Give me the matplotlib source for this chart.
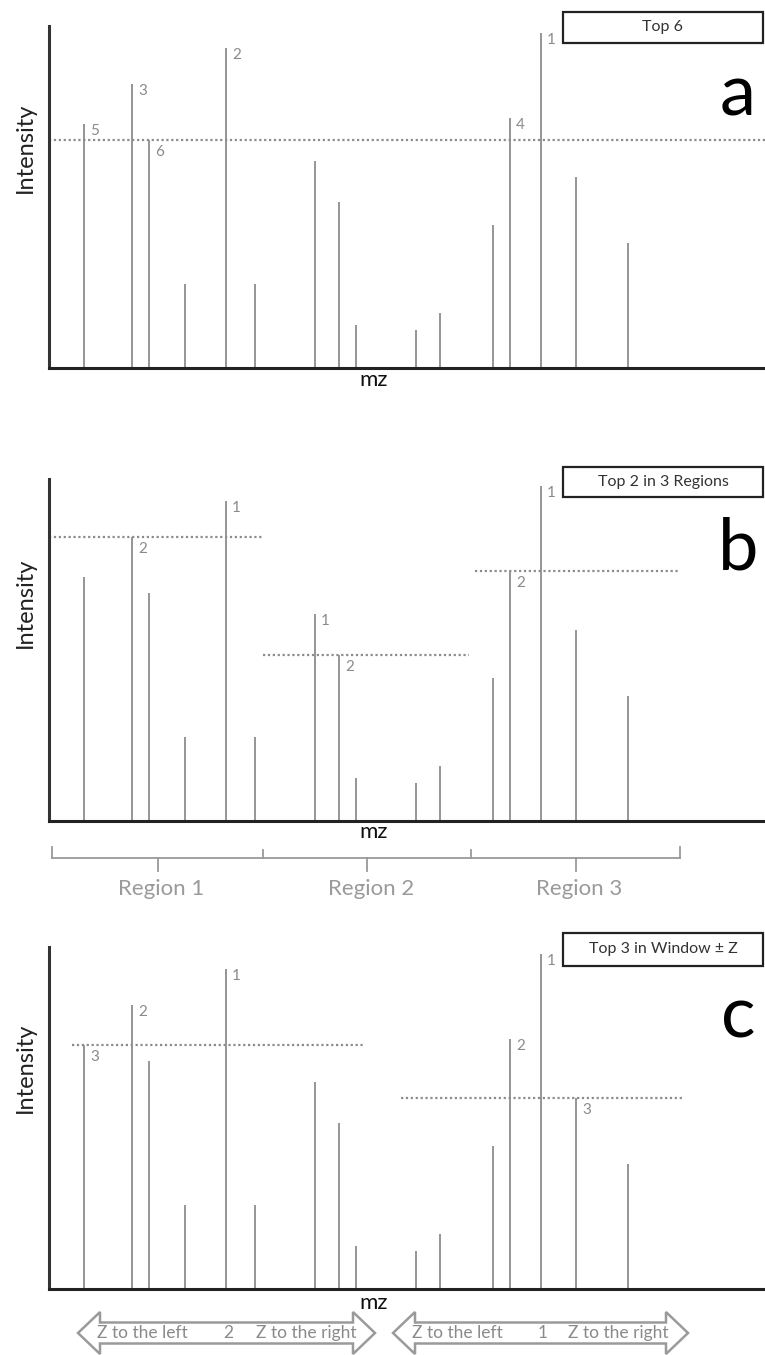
import matplotlib
matplotlib.use('Agg')
import matplotlib.pyplot as plt
from matplotlib import transforms
from matplotlib.patches import Polygon, Rectangle

plt.rcParams['font.family'] = ['Lato', 'DejaVu Sans']

W, H = 765, 1355

# ---- data ----
mz = [84, 132, 149, 185, 226, 255, 315, 339, 356, 416, 440, 493, 510, 541, 576, 628]
intensity = [244, 284, 228, 84, 320, 84, 207, 166, 43, 38, 55, 143, 250, 335, 191, 125]

panel_letters = ['a', 'b', 'c']
panel_titles = ['Top 6', 'Top 2 in 3 Regions', 'Top 3 in Window \u00b1 Z']

top_n_a = 6
threshold_a_span = (49, 765)

top_n_b = 2
region_edges = [52, 263, 471, 680]
region_line_spans = [(49, 263), (263, 469), (475, 678)]
region_labels = ['Region 1', 'Region 2', 'Region 3']

top_n_c = 3
window_spans = [(78, 375), (393, 688)]
window_line_spans = [(72, 364), (401, 684)]
window_center_labels = ['2', '1']

# ---- layout (pixels) ----
panel_tops = [26, 479, 947]
panel_bottoms = [368, 821, 1289]
box_tops = [12, 467, 933]
box_bottoms = [43, 497, 966]
letter_baselines = [115, 570, 1037]
ylabel_centers = [148, 603, 1068]
mz_label_y = [380, 832, 1303]

PEAK = '#8c8c8c'
LABEL = '#8a8a8a'
THR = '#8c8c8c'

fig = plt.figure(figsize=(W / 100, H / 100), dpi=100)
toppx = transforms.Affine2D().scale(1 / W, -1 / H).translate(0, 1) + fig.transFigure

axes = []
for top, bot in zip(panel_tops, panel_bottoms):
    ax = fig.add_axes([49 / W, 1 - bot / H, (W - 49) / W, (bot - top) / H])
    ax.set_xlim(49, 765)
    ax.set_ylim(0, 342)
    for s in ['top', 'right']:
        ax.spines[s].set_visible(False)
    ax.spines['left'].set_linewidth(2.2)
    ax.spines['left'].set_color('#333333')
    ax.spines['bottom'].set_linewidth(2.2)
    ax.spines['bottom'].set_color('#222222')
    ax.set_xticks([])
    ax.set_yticks([])
    ax.patch.set_alpha(0)
    ax.vlines(mz, 0, intensity, color=PEAK, lw=1.3)
    axes.append(ax)


def rank_and_draw(ax, lo, hi, n, span):
    idx = [i for i in range(len(mz)) if lo <= mz[i] <= hi]
    idx.sort(key=lambda i: -intensity[i])
    top = idx[:n]
    thr = intensity[top[-1]]
    ax.hlines(thr, span[0], span[1], color=THR, lw=1.6, linestyles=(0, (1, 1.2)))
    for k, i in enumerate(top, start=1):
        dy = -5 if k == n else 0
        ax.annotate(str(k), (mz[i], intensity[i]), xytext=(6, dy),
                    textcoords='offset pixels', ha='left', va='top',
                    fontsize=11, color=LABEL)


# panel a
rank_and_draw(axes[0], 0, 10000, top_n_a, threshold_a_span)
# panel b
for (lo, hi), span in zip(zip(region_edges[:-1], region_edges[1:]), region_line_spans):
    rank_and_draw(axes[1], lo, hi, top_n_b, span)
# panel c
for (lo, hi), span in zip(window_spans, window_line_spans):
    rank_and_draw(axes[2], lo, hi, top_n_c, span)

# boxes, letters, axis labels
for p in range(3):
    fig.add_artist(Rectangle((563, box_tops[p]), 200, box_bottoms[p] - box_tops[p],
                             transform=toppx, facecolor='white', edgecolor='#222222', lw=1.6))
    fig.text(663, (box_tops[p] + box_bottoms[p]) / 2, panel_titles[p], transform=toppx,
             ha='center', va='center', fontsize=11.5, color='#333333')
    fig.text(738, letter_baselines[p], panel_letters[p], transform=toppx,
             ha='center', va='baseline', fontsize=52, color='black')
    fig.text(25, ylabel_centers[p], 'Intensity', transform=toppx, rotation=90,
             ha='center', va='center', fontsize=17, color='#222222')
    fig.text(374, mz_label_y[p], 'mz', transform=toppx,
             ha='center', va='center', fontsize=16, color='#111111')

# region brackets (panel b)
bt = transforms.blended_transform_factory(axes[1].transData, toppx)
BR = '#9a9a9a'
y_end, y_bar, y_tick = 847, 858, 871
axes[1].plot([region_edges[0], region_edges[0]], [y_end, y_bar], transform=bt, color=BR, lw=1.3, clip_on=False)
axes[1].plot([region_edges[-1], region_edges[-1]], [y_end, y_bar], transform=bt, color=BR, lw=1.3, clip_on=False)
axes[1].plot([region_edges[0], region_edges[-1]], [y_bar, y_bar], transform=bt, color=BR, lw=1.3, clip_on=False)
for e in region_edges[1:-1]:
    axes[1].plot([e, e], [y_end + 3, y_bar], transform=bt, color=BR, lw=1.3, clip_on=False)
for (lo, hi), lab in zip(zip(region_edges[:-1], region_edges[1:]), region_labels):
    c = (lo + hi) / 2
    axes[1].plot([c, c], [y_bar, y_tick], transform=bt, color=BR, lw=1.3, clip_on=False)
    axes[1].text(c + 4, 889, lab, transform=bt, ha='center', va='center',
                 fontsize=16, color='#9a9a9a', clip_on=False)

# window arrows (panel c)
ct = transforms.blended_transform_factory(axes[2].transData, toppx)
yc, hh, sh, hl = 1333, 21, 10.5, 22
for (x0, x1), lab in zip(window_spans, window_center_labels):
    pts = [(x0, yc), (x0 + hl, yc - hh), (x0 + hl, yc - sh), (x1 - hl, yc - sh),
           (x1 - hl, yc - hh), (x1, yc), (x1 - hl, yc + hh), (x1 - hl, yc + sh),
           (x0 + hl, yc + sh), (x0 + hl, yc + hh)]
    poly = Polygon(pts, closed=True, transform=ct, facecolor='white',
                   edgecolor='#9a9a9a', lw=1.8, clip_on=False, joinstyle='miter')
    axes[2].add_patch(poly)
    axes[2].text(x0 + 19, yc, 'Z to the left', transform=ct, ha='left', va='center',
                 fontsize=12.5, color='#8a8a8a', clip_on=False)
    axes[2].text(x1 - 19, yc, 'Z to the right', transform=ct, ha='right', va='center',
                 fontsize=12.5, color='#8a8a8a', clip_on=False)
    axes[2].text((x0 + x1) / 2 + 2, yc, lab, transform=ct, ha='center', va='center',
                 fontsize=12.5, color='#8a8a8a', clip_on=False)

fig.savefig('out.png', dpi=100, facecolor='white')
